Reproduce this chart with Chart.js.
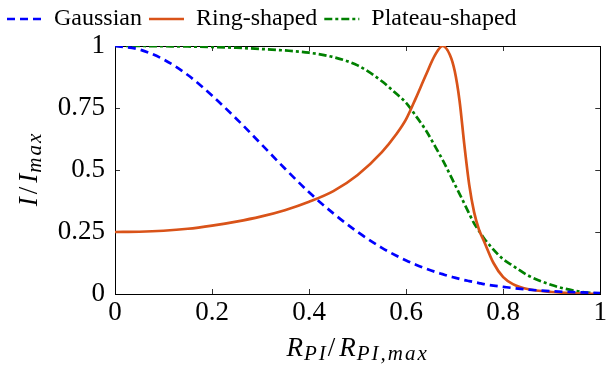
<!DOCTYPE html>
<html>
<head>
<meta charset="utf-8">
<script src="https://cdn.jsdelivr.net/npm/chart.js@4.4.1/dist/chart.umd.min.js"></script>
<style>
  html, body { margin: 0; padding: 0; background: #fff; }
  #wrap { width: 610px; height: 366px; }
</style>
</head>
<body>
<div id="wrap"><canvas id="chart" width="610" height="366"></canvas></div>
<script>
// radial position, normalised
const xValues = [0, 0.05, 0.1, 0.15, 0.2, 0.25, 0.3, 0.35, 0.4, 0.45, 0.5, 0.55, 0.58, 0.6, 0.62, 0.64, 0.66, 0.675,
  0.69, 0.7, 0.71, 0.72, 0.73, 0.74, 0.75, 0.76, 0.78, 0.8, 0.82, 0.85, 0.9, 0.95, 1];

const gaussian = [1.0, 0.986, 0.946, 0.883, 0.80, 0.707, 0.607, 0.506, 0.41, 0.325, 0.25, 0.186, 0.154, 0.135, 0.118, 0.103, 0.089, 0.08,
  0.071, 0.066, 0.061, 0.056, 0.052, 0.048, 0.044, 0.040, 0.034, 0.029, 0.024, 0.018, 0.011, 0.007, 0.004];

const ringShaped = [0.25, 0.251, 0.255, 0.263, 0.276, 0.292, 0.312, 0.338, 0.372, 0.415, 0.48, 0.572, 0.645, 0.705, 0.79, 0.88, 0.965, 1.0,
  0.965, 0.90, 0.78, 0.60, 0.44, 0.33, 0.26, 0.215, 0.125, 0.068, 0.04, 0.02, 0.008, 0.003, 0];

const plateauShaped = [1.0, 1.0, 0.999, 0.998, 0.996, 0.993, 0.988, 0.982, 0.973, 0.955, 0.922, 0.858, 0.807, 0.771, 0.718, 0.662, 0.594, 0.541,
  0.483, 0.443, 0.404, 0.364, 0.324, 0.285, 0.255, 0.226, 0.179, 0.14, 0.114, 0.076, 0.036, 0.012, 0];

const xTicks = [0, 0.2, 0.4, 0.6, 0.8, 1];
const yTicks = [0, 0.25, 0.5, 0.75, 1];

const serif = "'Liberation Serif', 'DejaVu Serif', serif";

const toPoints = vals => vals.map((v, i) => ({ x: xValues[i], y: v }));

// pgfplots-like frame with inward ticks on all four sides
const framePlugin = {
  id: 'frame',
  beforeDatasetsDraw(chart) {
    const { ctx, chartArea: a, scales } = chart;
    ctx.save();
    ctx.strokeStyle = '#333';
    ctx.lineWidth = 1;
    ctx.beginPath();
    xTicks.forEach(v => {
      const px = Math.round(scales.x.getPixelForValue(v)) + 0.5;
      ctx.moveTo(px, a.bottom); ctx.lineTo(px, a.bottom - 5);
      ctx.moveTo(px, a.top); ctx.lineTo(px, a.top + 5);
    });
    yTicks.forEach(v => {
      const py = Math.round(scales.y.getPixelForValue(v)) + 0.5;
      ctx.moveTo(a.left, py); ctx.lineTo(a.left + 5, py);
      ctx.moveTo(a.right, py); ctx.lineTo(a.right - 5, py);
    });
    ctx.stroke();
    ctx.strokeStyle = '#000';
    ctx.strokeRect(Math.round(a.left) + 0.5, Math.round(a.top) + 0.5,
      Math.round(a.right - a.left), Math.round(a.bottom - a.top));
    ctx.restore();
  }
};

// axis titles with subscripts
function drawParts(ctx, parts, x, y) {
  let total = 0;
  parts.forEach(p => {
    ctx.font = p.font; ctx.letterSpacing = p.ls;
    total += ctx.measureText(p.t).width;
  });
  let cx = x - total / 2;
  parts.forEach(p => {
    ctx.font = p.font; ctx.letterSpacing = p.ls;
    ctx.fillText(p.t, cx, y + (p.dy || 0));
    cx += ctx.measureText(p.t).width;
  });
}

const titlePlugin = {
  id: 'titles',
  afterDraw(chart) {
    const { ctx, chartArea: a } = chart;
    const big = 'italic 27px ' + serif;
    const up = '27px ' + serif;
    const sub = 'italic 21px ' + serif;
    ctx.save();
    ctx.fillStyle = '#000';
    ctx.textBaseline = 'alphabetic';
    drawParts(ctx, [
      { t: 'R', font: big, ls: '1px' }, { t: 'PI', font: sub, dy: 4, ls: '2px' },
      { t: '/', font: up, ls: '4px' },
      { t: 'R', font: big, ls: '1px' }, { t: 'PI,max', font: sub, dy: 4, ls: '2px' }
    ], (a.left + a.right) / 2, 356);
    ctx.translate(37, 169);
    ctx.rotate(-Math.PI / 2);
    drawParts(ctx, [
      { t: 'I', font: big, ls: '3px' }, { t: '/', font: up, ls: '4px' },
      { t: 'I', font: big, ls: '1px' }, { t: 'max', font: sub, dy: 4, ls: '2px' }
    ], 0, 0);
    ctx.restore();
  }
};

// legend lines keep the dataset dash pattern
const legendLabels = chart =>
  Chart.defaults.plugins.legend.labels.generateLabels(chart).map((item, i) => {
    const ds = chart.data.datasets[i];
    return Object.assign(item, {
      lineDash: ds.borderDash || [],
      lineWidth: ds.borderWidth,
      strokeStyle: ds.borderColor,
    });
  });

const ctx = document.getElementById('chart').getContext('2d');

new Chart(ctx, {
  type: 'line',
  data: {
    datasets: [
      {
        label: 'Gaussian',
        data: toPoints(gaussian),
        borderColor: '#0000ff',
        borderWidth: 2.7,
        borderDash: [8, 5],
      },
      {
        label: 'Ring-shaped',
        data: toPoints(ringShaped),
        borderColor: '#d95319',
        borderWidth: 2.7,
      },
      {
        label: 'Plateau-shaped',
        data: toPoints(plateauShaped),
        borderColor: '#008000',
        borderWidth: 2.7,
        borderDash: [8, 3, 3, 3],
      },
    ],
  },
  options: {
    responsive: false,
    animation: false,
    devicePixelRatio: 1,
    elements: {
      point: { radius: 0 },
      line: { cubicInterpolationMode: 'monotone', fill: false },
    },
    layout: { padding: { top: 0, right: 0, left: 0, bottom: 0 } },
    scales: {
      x: {
        type: 'linear',
        min: 0,
        max: 1,
        afterBuildTicks: s => { s.ticks = xTicks.map(v => ({ value: v })); },
        afterFit: s => { s.height = 72; },
        grid: { display: false, drawTicks: false },
        border: { display: false },
        ticks: {
          color: '#000',
          font: { family: serif, size: 27 },
          padding: 3,
          maxRotation: 0,
          callback: v => String(+v.toFixed(2)),
        },
      },
      // empty spacer between legend and plot
      xTop: {
        type: 'linear',
        position: 'top',
        min: 0,
        max: 1,
        afterFit: s => { s.height = 5; },
        grid: { display: false, drawTicks: false },
        border: { display: false },
        ticks: { display: false },
      },
      y: {
        type: 'linear',
        min: 0,
        max: 1,
        afterBuildTicks: s => { s.ticks = yTicks.map(v => ({ value: v })); },
        afterFit: s => { s.width = 115; },
        grid: { display: false, drawTicks: false },
        border: { display: false },
        ticks: {
          color: '#000',
          font: { family: serif, size: 27 },
          padding: 10,
          callback: v => String(+v.toFixed(2)),
        },
      },
    },
    plugins: {
      legend: {
        position: 'top',
        align: 'start',
        labels: {
          usePointStyle: true,
          pointStyle: 'line',
          pointStyleWidth: 35,
          color: '#000',
          font: { family: serif, size: 24 },
          padding: 7,
          generateLabels: legendLabels,
        },
      },
      tooltip: { enabled: false },
    },
  },
  plugins: [framePlugin, titlePlugin],
});
</script>
</body>
</html>
